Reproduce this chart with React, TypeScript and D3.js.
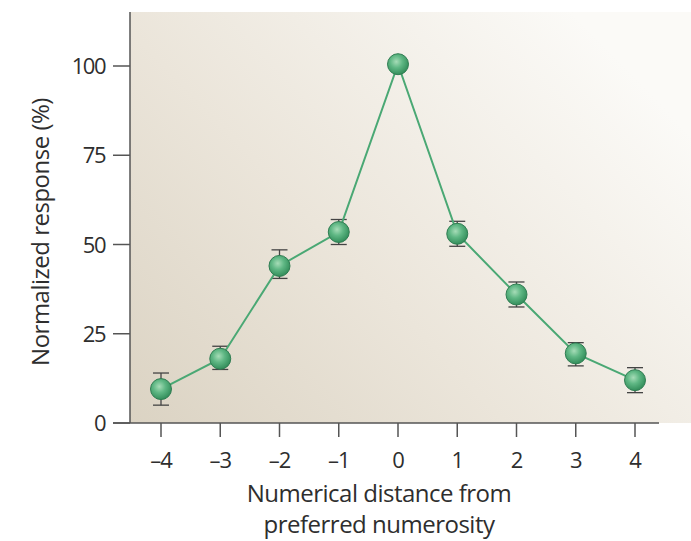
import React from "react";
import * as d3 from "d3";

const distances = [-4, -3, -2, -1, 0, 1, 2, 3, 4];
const responses = [9.5, 18, 44, 53.5, 100.5, 53, 36, 19.5, 12];
const errLow = [5, 15, 40.5, 50, 100.5, 49.5, 32.5, 16, 8.5];
const errHigh = [14, 21.5, 48.5, 57, 100.5, 56.5, 39.5, 22.5, 15.5];
const yTicks = [0, 25, 50, 75, 100];
const xTickLabels = ["–4", "–3", "–2", "–1", "0", "1", "2", "3", "4"];

const W = 691;
const H = 541;
const axisX = 130;
const axisY = 423;

export default function App() {
  const x = d3.scaleLinear().domain([-4, 4]).range([161, 635]);
  const y = d3.scaleLinear().domain([0, 100]).range([423, 66]);
  const line = d3
    .line<number>()
    .x((_, i) => x(distances[i]))
    .y((d) => y(d));
  const font = "'Open Sans', sans-serif";
  const axisColor = "#555";
  const textColor = "#2e2e2e";
  return (
    <svg
      width={W}
      height={H}
      style={{ position: "absolute", left: 0, top: 0, background: "#fff" }}
    >
      <defs>
        <linearGradient id="bg" x1="0" y1="1" x2="1" y2="0.3">
          <stop offset="0" stopColor="#dbd3c3" />
          <stop offset="0.45" stopColor="#ebe5da" />
          <stop offset="1" stopColor="#fbfaf7" />
        </linearGradient>
        <radialGradient id="ball" cx="0.42" cy="0.38" r="0.65">
          <stop offset="0" stopColor="#a6dcb7" />
          <stop offset="0.45" stopColor="#5fb784" />
          <stop offset="1" stopColor="#2f8a57" />
        </radialGradient>
      </defs>
      <rect x={axisX} y={12} width={W - axisX} height={axisY - 12} fill="url(#bg)" />
      {distances.map((d, i) => (
        <g key={"e" + i} stroke="#444" strokeWidth={1.3}>
          <line x1={x(d)} x2={x(d)} y1={y(errLow[i])} y2={y(errHigh[i])} />
          <line x1={x(d) - 8} x2={x(d) + 8} y1={y(errLow[i])} y2={y(errLow[i])} />
          <line x1={x(d) - 8} x2={x(d) + 8} y1={y(errHigh[i])} y2={y(errHigh[i])} />
        </g>
      ))}
      <path d={line(responses) || ""} fill="none" stroke="#4aa874" strokeWidth={2} />
      {distances.map((d, i) => (
        <circle
          key={"c" + i}
          cx={x(d)}
          cy={y(responses[i])}
          r={10.5}
          fill="url(#ball)"
          stroke="#2f7d52"
          strokeWidth={1}
        />
      ))}
      <line x1={axisX} x2={axisX} y1={12} y2={axisY} stroke={axisColor} strokeWidth={1.5} />
      <line x1={113} x2={659} y1={axisY} y2={axisY} stroke={axisColor} strokeWidth={1.5} />
      {yTicks.map((t) => (
        <g key={"y" + t}>
          <line x1={113} x2={axisX} y1={y(t)} y2={y(t)} stroke={axisColor} strokeWidth={1.5} />
          <text
            x={105}
            y={y(t) + 8}
            textAnchor="end"
            fontFamily={font}
            fontSize={22}
            letterSpacing={-1.5}
            fill={textColor}
          >
            {t}
          </text>
        </g>
      ))}
      {distances.map((d, i) => (
        <g key={"x" + d}>
          <line x1={x(d)} x2={x(d)} y1={axisY} y2={437} stroke={axisColor} strokeWidth={1.5} />
          <text
            x={x(d)}
            y={468}
            textAnchor="middle"
            fontFamily={font}
            fontSize={22}
            letterSpacing={-1}
            fill={textColor}
          >
            {xTickLabels[i]}
          </text>
        </g>
      ))}
      <text
        x={379}
        y={502}
        textAnchor="middle"
        fontFamily={font}
        fontSize={24}
        letterSpacing={-0.5}
        fill={textColor}
      >
        Numerical distance from
      </text>
      <text
        x={379}
        y={533}
        textAnchor="middle"
        fontFamily={font}
        fontSize={24}
        letterSpacing={-0.5}
        fill={textColor}
      >
        preferred numerosity
      </text>
      <text
        transform={`translate(49,232) rotate(-90)`}
        textAnchor="middle"
        fontFamily={font}
        fontSize={24}
        letterSpacing={-0.5}
        fill={textColor}
      >
        Normalized response (%)
      </text>
    </svg>
  );
}
